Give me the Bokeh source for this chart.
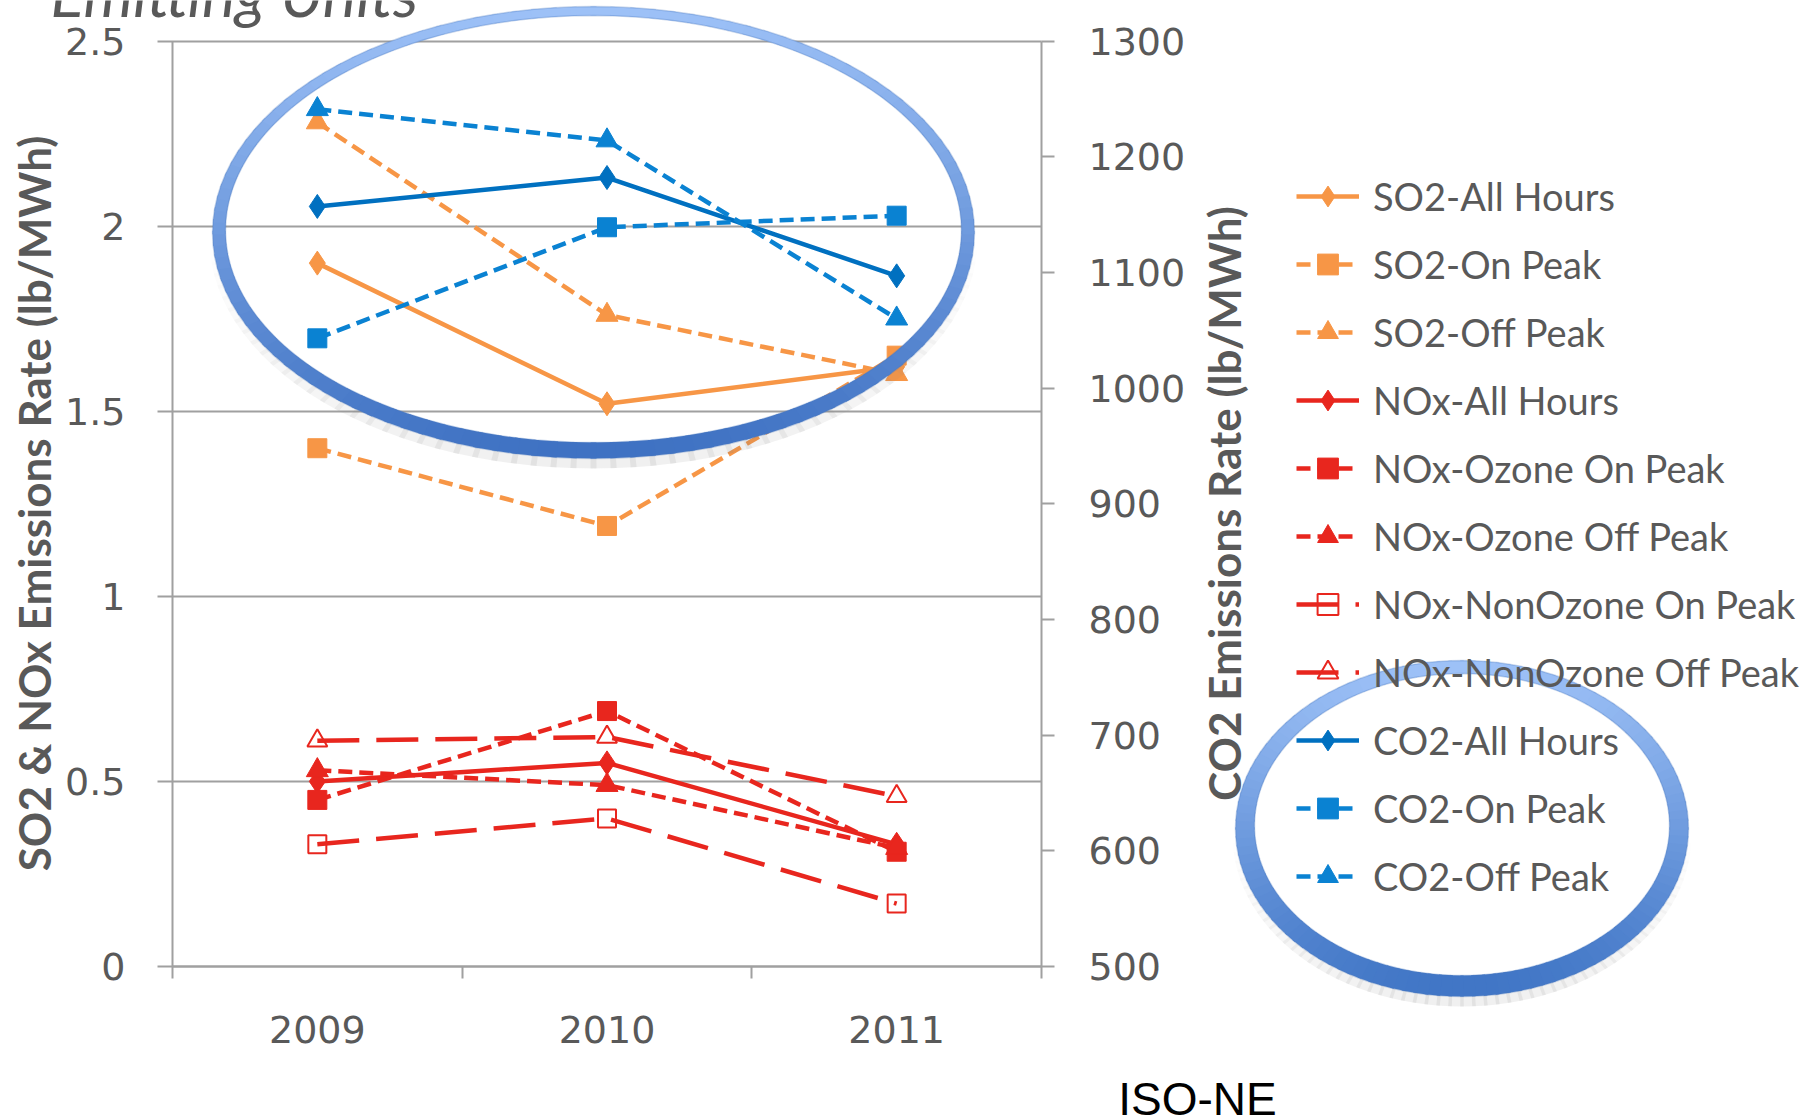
import math
from bokeh.plotting import figure
from bokeh.models import (Range1d, LinearAxis, FixedTicker, Legend, LegendItem,
                          Label, PolyAnnotation)
from bokeh.embed import file_html
from bokeh.resources import INLINE

# ---------------- data ----------------
years = [2009, 2010, 2011]
so2_all_hours = [1.90, 1.52, 1.62]
so2_on_peak = [1.40, 1.19, 1.65]
so2_off_peak = [2.28, 1.76, 1.60]
nox_all_hours = [0.50, 0.55, 0.33]
nox_ozone_on_peak = [0.45, 0.69, 0.31]
nox_ozone_off_peak = [0.53, 0.49, 0.32]
nox_nonozone_on_peak = [0.33, 0.40, 0.17]
nox_nonozone_off_peak = [0.61, 0.62, 0.46]
co2_all_hours = [1157, 1182, 1097]
co2_on_peak = [1043, 1139, 1149]
co2_off_peak = [1241, 1214, 1060]

left_ticks = [0, 0.5, 1, 1.5, 2, 2.5]
left_tick_labels = ["0", "0.5", "1", "1.5", "2", "2.5"]
right_ticks = [500, 600, 700, 800, 900, 1000, 1100, 1200, 1300]
year_labels = ["2009", "2010", "2011"]

# ---------------- layout / style ----------------
W, H = 1814, 1120
FL, FR, FT, FB = 172, 1041, 40.5, 966      # pixel box of the plotting area
GRID = "#A0A0A0"
TXT = "#595959"
ORANGE = "#F79646"
RED = "#E8261E"
BLUE_D = "#0070C0"
BLUE = "#0A82D2"
SHORT = "14 7"
LONG = "42 17"

x_lo, x_hi = years[0] - 0.5, years[-1] + 0.5
y_lo, y_hi = left_ticks[0], left_ticks[-1]
c_lo, c_hi = right_ticks[0], right_ticks[-1]
kx = (FR - FL) / (x_hi - x_lo)
ky = (FB - FT) / (y_hi - y_lo)
y_start = y_lo - (H - FB) / ky
y_end = y_hi + FT / ky
kc = (c_hi - c_lo) / (y_hi - y_lo)

p = figure(width=W, height=H, output_backend="svg", toolbar_location=None,
           x_range=Range1d(x_lo - FL / kx, x_hi + (W - FR) / kx),
           y_range=Range1d(y_start, y_end),
           x_axis_location=None, y_axis_location=None, min_border=0)
p.extra_y_ranges = {"co2": Range1d(c_lo + (y_start - y_lo) * kc,
                                   c_lo + (y_end - y_lo) * kc)}
p.outline_line_color = None
p.background_fill_color = "white"
p.border_fill_color = "white"
p.grid.visible = False


def style_axis(ax, standoff):
    ax.axis_line_color = GRID
    ax.axis_line_width = 2
    ax.major_tick_line_color = GRID
    ax.major_tick_line_width = 2
    ax.minor_tick_line_color = GRID
    ax.minor_tick_line_width = 2
    ax.major_label_text_font = "DejaVu Sans"
    ax.major_label_text_font_size = "38px"
    ax.major_label_text_color = TXT
    ax.major_label_standoff = standoff
    ax.level = "underlay"


# x axis: category labels centred between boundary ticks
xa = LinearAxis(fixed_location=y_lo, bounds=(x_lo, x_hi),
                ticker=FixedTicker(ticks=years, minor_ticks=[x_lo + i for i in range(4)]))
style_axis(xa, 37)
xa.major_label_overrides = dict(zip(years, year_labels))
xa.major_tick_out = 0
xa.major_tick_in = 0
xa.minor_tick_out = 12
xa.minor_tick_in = 0
p.add_layout(xa, "below")

# left axis; its inward ticks form the horizontal gridlines
ya = LinearAxis(fixed_location=x_lo, bounds=(y_lo, y_hi),
                ticker=FixedTicker(ticks=left_ticks, minor_ticks=[]))
style_axis(ya, 32)
ya.major_label_overrides = dict(zip(left_ticks, left_tick_labels))
ya.major_tick_out = 15
ya.major_tick_in = int(FR - FL)
ya.minor_tick_out = 0
ya.minor_tick_in = 0
p.add_layout(ya, "left")

# right axis (CO2)
ra = LinearAxis(y_range_name="co2", fixed_location=x_hi, bounds=(c_lo, c_hi),
                ticker=FixedTicker(ticks=right_ticks, minor_ticks=[]))
style_axis(ra, 34)
ra.major_tick_out = 13
ra.major_tick_in = 0
ra.minor_tick_out = 0
ra.minor_tick_in = 0
p.add_layout(ra, "right")

# ---------------- series ----------------
series = [
    ("SO2-All Hours", so2_all_hours, "default", ORANGE, "solid", "diamond", True),
    ("SO2-On Peak", so2_on_peak, "default", ORANGE, SHORT, "square", True),
    ("SO2-Off Peak", so2_off_peak, "default", ORANGE, SHORT, "triangle", True),
    ("NOx-All Hours", nox_all_hours, "default", RED, "solid", "diamond", True),
    ("NOx-Ozone On Peak", nox_ozone_on_peak, "default", RED, SHORT, "square", True),
    ("NOx-Ozone Off Peak", nox_ozone_off_peak, "default", RED, SHORT, "triangle", True),
    ("NOx-NonOzone On Peak", nox_nonozone_on_peak, "default", RED, LONG, "square", False),
    ("NOx-NonOzone Off Peak", nox_nonozone_off_peak, "default", RED, LONG, "triangle", False),
    ("CO2-All Hours", co2_all_hours, "co2", BLUE_D, "solid", "diamond", True),
    ("CO2-On Peak", co2_on_peak, "co2", BLUE, SHORT, "square", True),
    ("CO2-Off Peak", co2_off_peak, "co2", BLUE, SHORT, "triangle", True),
]
msize = {"diamond": 24, "square": 19, "triangle": 22}

items = []
for name, vals, rng, col, dash, mk, filled in series:
    ln = p.line(years, vals, y_range_name=rng, line_color=col, line_width=4.5,
                line_dash=dash)
    if filled:
        sc = p.scatter(years, vals, y_range_name=rng, marker=mk, size=msize[mk],
                       fill_color=col, line_color=col, line_width=1)
    else:
        sc = p.scatter(years, vals, y_range_name=rng, marker=mk,
                       size=18 if mk == "square" else 20,
                       fill_color="white", fill_alpha=0.0,
                       line_color=col, line_width=2)
    items.append(LegendItem(label=name, renderers=[ln, sc]))

LEG_ITEM, LEG_SP = 52, 16
leg_h = len(items) * LEG_ITEM + (len(items) - 1) * LEG_SP
leg_top = 195.5 - LEG_ITEM / 2
legend = Legend(items=items, location=(1296, int(round(H - (leg_top + leg_h)))),
                glyph_width=63, glyph_height=LEG_ITEM, label_height=LEG_ITEM,
                label_standoff=14, spacing=LEG_SP, padding=0, margin=0,
                border_line_alpha=0, background_fill_alpha=0,
                label_text_font="Lato", label_text_font_size="38px",
                label_text_color=TXT)
p.add_layout(legend, "center")

# ---------------- texts ----------------
p.add_layout(Label(x=33, y=503, x_units="canvas", y_units="canvas",
                   text="SO2 & NOx Emissions Rate (lb/MWh)", angle=math.pi / 2,
                   text_align="center", text_baseline="middle",
                   text_font="Lato", text_font_style="bold",
                   text_font_size="44px", text_color=TXT))
p.add_layout(Label(x=1223, y=503, x_units="canvas", y_units="canvas",
                   text="CO2 Emissions Rate (lb/MWh)", angle=math.pi / 2,
                   text_align="center", text_baseline="middle",
                   text_font="Lato", text_font_style="bold",
                   text_font_size="44px", text_color=TXT))
p.add_layout(Label(x=50, y=-8, x_units="canvas", y_units="canvas",
                   text="Emitting Units", text_align="left",
                   text_baseline="alphabetic", text_font="Lato",
                   text_font_style="italic", text_font_size="63px",
                   text_color=TXT))
p.add_layout(Label(x=1197, y=1098, x_units="canvas", y_units="canvas",
                   text="ISO-NE", text_align="center",
                   text_baseline="alphabetic", text_font="Liberation Sans",
                   text_font_size="46px", text_color="black"))


# ---------------- highlight rings ----------------
def hex2rgb(h):
    h = h.lstrip("#")
    return tuple(int(h[i:i + 2], 16) for i in (0, 2, 4))


def mix(c0, c1, f):
    a, b = hex2rgb(c0), hex2rgb(c1)
    return "#%02x%02x%02x" % tuple(int(round(a[i] + (b[i] - a[i]) * f)) for i in range(3))


def add_ring(cx, cy, a, b, t_top, t_side, t_bot, c_top, c_bot, edge, n=120):
    A = (t_top + t_bot) / 2 - t_side
    B = (t_bot - t_top) / 2

    def thick(s):
        return A * s * s + B * s + t_side

    def pt(th, inset, dy=0.0):
        return (cx + (a - inset) * math.cos(th), cy + (b - inset) * math.sin(th) + dy)

    step = 2 * math.pi / n
    eps = step * 0.15
    for i in range(n):
        th0, th1 = i * step - eps, (i + 1) * step + eps
        s = math.sin((th0 + th1) / 2)
        if s < 0.05:
            continue
        t0, t1 = thick(math.sin(th0)), thick(math.sin(th1))
        o0, o1 = pt(th0, -3, 7), pt(th1, -3, 7)
        i0, i1 = pt(th0, t0 - 2, 7), pt(th1, t1 - 2, 7)
        p.add_layout(PolyAnnotation(xs=[o0[0], o1[0], i1[0], i0[0]],
                                    ys=[o0[1], o1[1], i1[1], i0[1]],
                                    xs_units="canvas", ys_units="canvas",
                                    fill_color="#808080", fill_alpha=0.12 * s,
                                    line_alpha=0))
    for i in range(n):
        th0, th1 = i * step - eps, (i + 1) * step + eps
        s = math.sin((th0 + th1) / 2)
        t0, t1 = thick(math.sin(th0)), thick(math.sin(th1))
        o0, o1 = pt(th0, 0), pt(th1, 0)
        i0, i1 = pt(th0, t0), pt(th1, t1)
        p.add_layout(PolyAnnotation(xs=[o0[0], o1[0], i1[0], i0[0]],
                                    ys=[o0[1], o1[1], i1[1], i0[1]],
                                    xs_units="canvas", ys_units="canvas",
                                    fill_color=mix(c_top, c_bot, (s + 1) / 2),
                                    fill_alpha=1.0, line_alpha=0))
    outer = [pt(i * step, 0) for i in range(n)]
    inner = [pt(i * step, thick(math.sin(i * step))) for i in range(n)]
    for ring in (outer, inner):
        p.add_layout(PolyAnnotation(xs=[q[0] for q in ring], ys=[q[1] for q in ring],
                                    xs_units="canvas", ys_units="canvas",
                                    fill_alpha=0, line_color=edge, line_width=1.5))


add_ring(593, 232, 381, 226, 9, 13, 16, "#9DC1F7", "#3F72C3", "#4A76BE")
add_ring(1461.5, 828, 226.5, 168, 13, 19, 21, "#9DC1F7", "#4176C6", "#4A76BE")

open("out.html", "w").write(file_html(p, INLINE))
